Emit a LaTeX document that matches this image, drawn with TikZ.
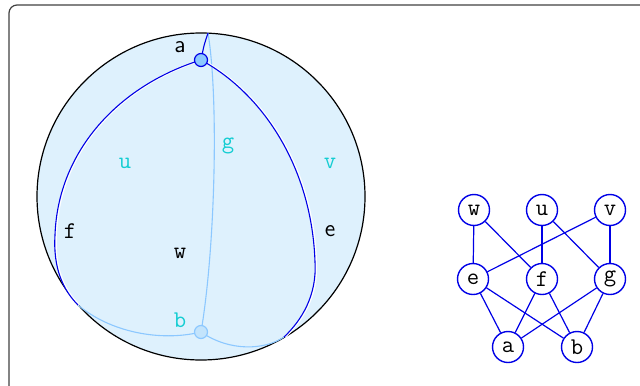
\documentclass[tikz,border=0pt]{standalone}
\definecolor{sphfill}{RGB}{222,241,253}
\definecolor{frontc}{RGB}{0,0,230}
\definecolor{backc}{RGB}{140,200,255}
\definecolor{lblc}{RGB}{20,205,210}
\definecolor{bnodefill}{RGB}{195,228,252}
\begin{document}
\begin{tikzpicture}[x=0.5pt,y=-0.5pt,
  front/.style={draw=frontc,line width=0.55pt},
  halo/.style={draw=white,line width=1pt,transform canvas={xshift=0.5pt}},
  back/.style={draw=backc,line width=0.55pt},
  gnode/.style={circle,draw=frontc,line width=0.7pt,minimum size=15.5pt,inner sep=0pt,font=\fontsize{12}{14}\selectfont\ttfamily},
  gedge/.style={draw=frontc,line width=0.6pt},
  lbl/.style={font=\fontsize{12}{14}\selectfont\ttfamily,inner sep=0pt},
  slbl/.style={font=\fontsize{12}{14}\selectfont\sffamily,inner sep=0pt},
  pt/.style={circle,line width=0.6pt,minimum size=6.5pt,inner sep=0pt}
]
\useasboundingbox (0,0) rectangle (640,385);
\draw[black!75,line width=0.6pt,rounded corners=4pt] (9,5) rectangle (680,400);
% sphere
\draw[fill=sphfill,line width=0.6pt] (201,196.5) ellipse (164 and 163.5);
\coordinate (apos) at (201,60);
\coordinate (bpos) at (201,332);
\coordinate (top) at (208,33);
\coordinate (Lm) at (55,235);
\coordinate (L) at (78,305);
\coordinate (Rm) at (315,262);
\coordinate (R) at (284,337);
% back curves
\draw[back] (top) .. controls (219,100) and (215,250) .. (bpos);
\draw[back] (L) .. controls (110,332) and (160,342) .. (bpos);
\draw[back] (bpos) .. controls (230,352) and (265,350) .. (R);
% halos
\draw[halo] (apos) .. controls (120,85) and (58,150) .. (Lm) .. controls (53,268) and (63,290) .. (L);
\draw[halo] (apos) .. controls (265,95) and (312,170) .. (Rm) .. controls (317,295) and (302,320) .. (R);
% front curves
\draw[front] (apos) .. controls (120,85) and (58,150) .. (Lm) .. controls (53,268) and (63,290) .. (L);
\draw[front] (apos) .. controls (265,95) and (312,170) .. (Rm) .. controls (317,295) and (302,320) .. (R);
\draw[front] (apos) .. controls (204,45) .. (top);
% points
\node[pt,draw=frontc,fill=backc] (a) at (apos) {};
\node[pt,draw=backc,fill=bnodefill] (b) at (bpos) {};
% labels
\node[slbl] (la) at (180,47) {a};
\node[lbl,text=lblc] (lu) at (125,163) {u};
\node[lbl,text=lblc] (lg) at (228,146) {g};
\node[lbl,text=lblc] (lv) at (330,163) {v};
\node[lbl] (lf) at (70,231) {f};
\node[slbl] (le) at (330,231) {e};
\node[lbl] (lw) at (180,253) {w};
\node[lbl,text=lblc] (lb) at (180,320) {b};
% graph
\node[gnode] (gw) at (474,210) {w};
\node[gnode] (gu) at (542,210) {u};
\node[gnode] (gv) at (610,210) {v};
\node[gnode] (ge) at (473,279) {e};
\node[gnode] (gf) at (542,279) {f};
\node[gnode] (gg) at (610,279) {g};
\node[gnode] (ga) at (508,347) {a};
\node[gnode] (gb) at (577,347) {b};
\draw[gedge] (gw) -- (ge);
\draw[gedge] (gw) -- (gf);
\draw[gedge] (gu) -- (gf);
\draw[gedge] (gu) -- (gg);
\draw[gedge] (gv) -- (ge);
\draw[gedge] (gv) -- (gg);
\draw[gedge] (ge) -- (ga);
\draw[gedge] (ge) -- (gb);
\draw[gedge] (gf) -- (ga);
\draw[gedge] (gf) -- (gb);
\draw[gedge] (gg) -- (ga);
\draw[gedge] (gg) -- (gb);
\end{tikzpicture}
\end{document}
